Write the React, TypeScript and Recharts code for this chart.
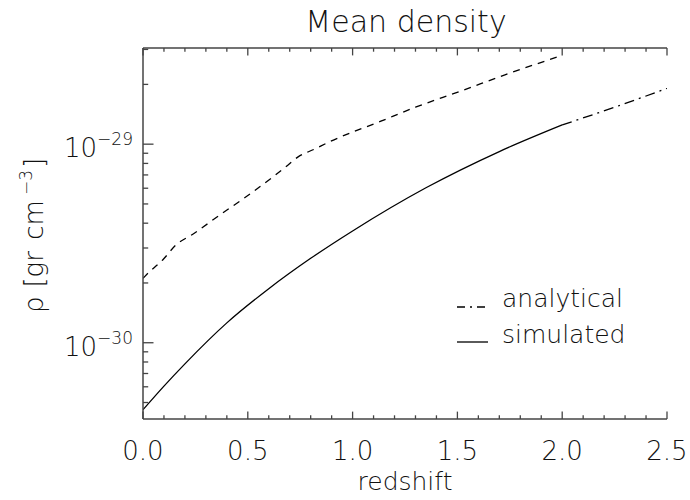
import React from 'react';
import { LineChart, Line, XAxis, YAxis, Legend } from 'recharts';

// redshift values and mean densities
const simulatedZ = [0.0, 0.1, 0.2, 0.4, 0.6, 0.8, 1.0, 1.35, 1.7, 2.0];
const simulatedRho = [4.6e-31, 6.05e-31, 7.83e-31, 1.259e-30, 1.871e-30, 2.661e-30, 3.656e-30, 6.03e-30, 9.18e-30, 1.25e-29];

const dashedZ = [0.0, 0.024, 0.095, 0.16, 0.23, 0.36, 0.49, 0.62, 0.68, 0.74, 0.82, 0.89, 1.135, 1.3, 1.51, 1.73, 2.0];
const dashedRho = [2.11e-30, 2.24e-30, 2.62e-30, 3.13e-30, 3.48e-30, 4.35e-30, 5.42e-30, 6.84e-30, 7.68e-30, 8.63e-30, 9.46e-30, 1.028e-29, 1.305e-29, 1.535e-29, 1.84e-29, 2.24e-29, 2.8e-29];

const analyticalZ = [2.0, 2.25, 2.5];
const analyticalRho = [1.25e-29, 1.535e-29, 1.91e-29];

const xTicks = [0, 0.1, 0.2, 0.3, 0.4, 0.5, 0.6, 0.7, 0.8, 0.9, 1.0, 1.1, 1.2, 1.3, 1.4, 1.5, 1.6, 1.7, 1.8, 1.9, 2.0, 2.1, 2.2, 2.3, 2.4, 2.5];
const yTicks = [5e-31, 6e-31, 7e-31, 8e-31, 9e-31, 1e-30, 2e-30, 3e-30, 4e-30, 5e-30, 6e-30, 7e-30, 8e-30, 9e-30, 1e-29, 2e-29, 3e-29];
const xDomain = [0, 2.5];
const yDomain = [4.13e-31, 3.05e-29];

const legendItems = [
  { label: 'analytical', dash: '8 5 2 5' },
  { label: 'simulated', dash: undefined as string | undefined },
];

const toRows = (zs: number[], vs: number[]) => zs.map((z, i) => ({ z, rho: vs[i] }));
const simulatedData = toRows(simulatedZ, simulatedRho);
const dashedData = toRows(dashedZ, dashedRho);
const analyticalData = toRows(analyticalZ, analyticalRho);

const FONT = "'DejaVu Sans', sans-serif";
const TXT = '#111';
const AX = '#444';

const isMajorX = (v: number) => Math.abs(v * 2 - Math.round(v * 2)) < 1e-6;
const isMajorY = (v: number) => {
  const l = Math.log10(v);
  return Math.abs(l - Math.round(l)) < 1e-6;
};

const BottomTick = (p: any) => {
  const { x, y, payload } = p;
  const major = isMajorX(payload.value);
  return (
    <g>
      <line x1={x} x2={x} y1={y} y2={y - (major ? 7.4 : 3.7)} stroke={AX} strokeWidth={1.3} />
      {major && (
        <text x={x} y={y + 41} textAnchor="middle" fontFamily={FONT} fontWeight={300} fontSize={26} fill={TXT}>
          {payload.value.toFixed(1)}
        </text>
      )}
    </g>
  );
};

const TopTick = (p: any) => {
  const { x, y, payload } = p;
  const major = isMajorX(payload.value);
  return <line x1={x} x2={x} y1={y} y2={y + (major ? 7.4 : 3.7)} stroke={AX} strokeWidth={1.3} />;
};

const LeftTick = (p: any) => {
  const { x, y, payload } = p;
  const major = isMajorY(payload.value);
  const exp = Math.round(Math.log10(payload.value));
  return (
    <g>
      <line x1={x} x2={x + (major ? 10.5 : 5.2)} y1={y} y2={y} stroke={AX} strokeWidth={1.3} />
      {major && (
        <text x={x - 10} y={y + 13} textAnchor="end" fontFamily={FONT} fontWeight={300} fontSize={26} fill={TXT}>
          <tspan>10</tspan>
          <tspan dy={-12} fontSize={17}>{'\u2212' + String(Math.abs(exp))}</tspan>
        </text>
      )}
    </g>
  );
};

const RightTick = (p: any) => {
  const { x, y, payload } = p;
  const major = isMajorY(payload.value);
  return <line x1={x} x2={x - (major ? 10.5 : 5.2)} y1={y} y2={y} stroke={AX} strokeWidth={1.3} />;
};

const TitleLabel = (p: any) => {
  const vb = p.viewBox;
  return (
    <text x={vb.x + vb.width / 2 + 1} y={vb.y + 32} textAnchor="middle" fontFamily={FONT} fontWeight={300} fontSize={30} fill={TXT}>
      Mean density
    </text>
  );
};

const XTitle = (p: any) => {
  const vb = p.viewBox;
  return (
    <text x={vb.x + vb.width / 2} y={vb.y + 71} textAnchor="middle" fontFamily={FONT} fontWeight={300} fontSize={25} fill={TXT}>
      redshift
    </text>
  );
};

const YTitle = (p: any) => {
  const vb = p.viewBox;
  const cx = vb.x + 43;
  const cy = vb.y + vb.height / 2 + 2;
  return (
    <text transform={`translate(${cx}, ${cy}) rotate(-90)`} x={0} y={0} textAnchor="middle" fontFamily={FONT} fontWeight={300} fontSize={26} fill={TXT}>
      <tspan>{'\u03c1'}</tspan>
      <tspan dx={9}>[gr</tspan>
      <tspan dx={12}>cm</tspan>
      <tspan dx={5} dy={-11} fontSize={17}>{'\u22123'}</tspan>
      <tspan dx={2} dy={11}>]</tspan>
    </text>
  );
};

const LegendBox = () => (
  <svg width={200} height={75} style={{ display: 'block' }}>
    {legendItems.map((it, i) => (
      <g key={it.label}>
        <line x1={7} x2={38} y1={27 + i * 35} y2={27 + i * 35} stroke="#000" strokeWidth={1.3} strokeDasharray={it.dash} />
        <text x={52} y={27 + i * 36} fontFamily={FONT} fontWeight={300} fontSize={25} fill={TXT}>
          {it.label}
        </text>
      </g>
    ))}
  </svg>
);

export default function App() {
  return (
    <div style={{ position: 'absolute', left: 0, top: 0, width: 690, height: 500, background: '#fff' }}>
      <LineChart width={690} height={500} margin={{ top: 0, right: 23, bottom: 0, left: 0 }}>
        <XAxis xAxisId="b" dataKey="z" type="number" domain={xDomain} ticks={xTicks} interval={0} height={81}
          tickSize={0} tickMargin={0} tickLine={false} tick={<BottomTick />} axisLine={{ stroke: AX, strokeWidth: 1.5 }}
          allowDataOverflow label={<XTitle />} />
        <XAxis xAxisId="t" orientation="top" dataKey="z" type="number" domain={xDomain} ticks={xTicks} interval={0} height={48}
          tickSize={0} tickMargin={0} tickLine={false} tick={<TopTick />} axisLine={{ stroke: AX, strokeWidth: 1.5 }}
          allowDataOverflow label={<TitleLabel />} />
        <YAxis yAxisId="l" dataKey="rho" scale="log" type="number" domain={yDomain} ticks={yTicks} interval={0} width={143}
          tickSize={0} tickMargin={0} tickLine={false} tick={<LeftTick />} axisLine={{ stroke: AX, strokeWidth: 1.5 }}
          allowDataOverflow label={<YTitle />} />
        <YAxis yAxisId="r" orientation="right" dataKey="rho" scale="log" type="number" domain={yDomain} ticks={yTicks} interval={0} width={0}
          tickSize={0} tickMargin={0} tickLine={false} tick={<RightTick />} axisLine={{ stroke: AX, strokeWidth: 1.5 }}
          allowDataOverflow />
        <Line xAxisId="b" yAxisId="l" data={dashedData} dataKey="rho" type="monotone" stroke="#000" strokeWidth={1.3}
          strokeDasharray="7 6" dot={false} activeDot={false} isAnimationActive={false} name="dashed" legendType="none" />
        <Line xAxisId="b" yAxisId="l" data={simulatedData} dataKey="rho" type="monotone" stroke="#000" strokeWidth={1.3}
          dot={false} activeDot={false} isAnimationActive={false} name="simulated" />
        <Line xAxisId="b" yAxisId="l" data={analyticalData} dataKey="rho" type="monotone" stroke="#000" strokeWidth={1.3}
          strokeDasharray="10 5 2 5" dot={false} activeDot={false} isAnimationActive={false} name="analytical" />
        <Legend layout="vertical" align="center" verticalAlign="middle" content={<LegendBox />}
          wrapperStyle={{ left: 450, top: 280, width: 200, height: 75 }} />
      </LineChart>
    </div>
  );
}
